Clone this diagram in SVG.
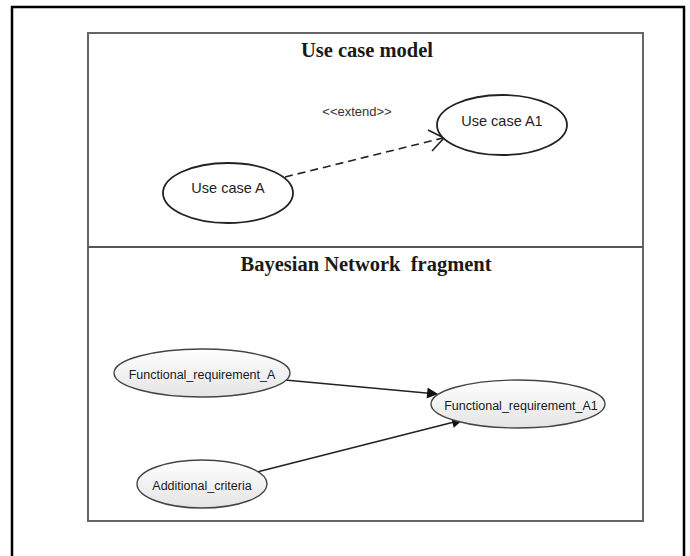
<svg xmlns="http://www.w3.org/2000/svg" width="690" height="556" viewBox="0 0 690 556">
<defs>
<linearGradient id="g" x1="0" y1="0" x2="0" y2="1">
<stop offset="0" stop-color="#ffffff"/>
<stop offset="1" stop-color="#e4e4e4"/>
</linearGradient>
<marker id="tri" viewBox="0 0 10 10" refX="9" refY="5" markerWidth="13" markerHeight="11" markerUnits="userSpaceOnUse" orient="auto">
<path d="M0,0 L10,5 L0,10 z" fill="#111"/>
</marker>
</defs>
<style>
.title{font-family:"Liberation Serif","Times New Roman",serif;font-weight:bold;font-size:20.5px;fill:#1a1a1a;text-anchor:middle}
.uc{fill:#fff;stroke:#222;stroke-width:1.8}
.bn{fill:url(#g);stroke:#444;stroke-width:1.4}
.lbl{font-family:"Liberation Sans",Arial,sans-serif;font-size:14.5px;fill:#222;text-anchor:middle}
.blbl{font-family:"Liberation Sans",Arial,sans-serif;font-size:12.5px;fill:#1a1a1a;text-anchor:middle}
.edge{fill:none;stroke:#222;stroke-width:1.6}
</style>
<rect width="690" height="556" fill="#fff"/>
<path d="M12,560 L12,7 L684,7 L684,560" fill="none" stroke="#000" stroke-width="2.5"/>
<rect x="88" y="33" width="555" height="488" fill="none" stroke="#666" stroke-width="2"/>
<line x1="88" y1="247" x2="643" y2="247" stroke="#555" stroke-width="2"/>
<text class="title" x="367" y="57">Use case model</text>
<text class="title" x="366" y="271" xml:space="preserve">Bayesian Network  fragment</text>
<g id="connectors">
<line class="edge" x1="285" y1="177" x2="443" y2="138" stroke-dasharray="8,5" stroke-width="2"/>
<polyline class="edge" points="428,130 444,138 432,151" stroke-width="1.8"/>
<text x="357" y="116" style="font-family:'Liberation Sans',Arial,sans-serif;font-size:13px;fill:#333;text-anchor:middle">&lt;&lt;extend&gt;&gt;</text>
<line class="edge" x1="285" y1="380" x2="437" y2="394" marker-end="url(#tri)"/>
<line class="edge" x1="257" y1="472" x2="462" y2="420" marker-end="url(#tri)"/>
</g>
<g id="uc-a">
<ellipse class="uc" cx="228" cy="193" rx="65" ry="30"/>
<text class="lbl" x="228" y="193">Use case A</text>
</g>
<g id="uc-a1">
<ellipse class="uc" cx="502" cy="125" rx="65" ry="30"/>
<text class="lbl" x="502" y="126">Use case A1</text>
</g>
<g id="fr-a">
<ellipse class="bn" cx="202" cy="373" rx="88" ry="24"/>
<text class="blbl" x="202" y="379">Functional_requirement_A</text>
</g>
<g id="fr-a1">
<ellipse class="bn" cx="518" cy="404" rx="87" ry="24"/>
<text class="blbl" x="521" y="410">Functional_requirement_A1</text>
</g>
<g id="add">
<ellipse class="bn" cx="202" cy="484" rx="65" ry="24"/>
<text class="blbl" x="202" y="490">Additional_criteria</text>
</g>
</svg>
